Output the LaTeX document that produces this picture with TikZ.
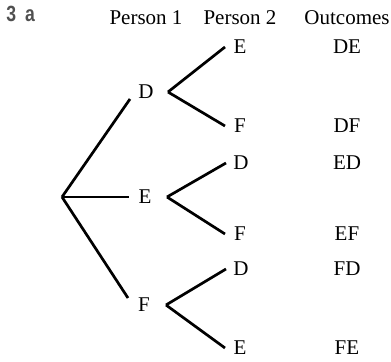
\documentclass[tikz,border=0pt]{standalone}
\usepackage{fontspec}
\setmainfont{Liberation Serif}
\newfontfamily\numfont[FakeStretch=0.8]{Liberation Sans}
\usetikzlibrary{positioning}
\definecolor{numgrey}{RGB}{80,80,80}

\begin{document}
\begin{tikzpicture}[
        x=0.5pt, y=-0.5pt,
        lab/.style={font=\fontsize{10.5}{12}\selectfont, inner sep=0pt,
                    outer sep=0pt, minimum height=7pt},
        first/.style={lab, minimum width=16pt},
        second/.style={lab, minimum width=15pt},
        branch/.style={line width=1.35pt}
    ]
        \useasboundingbox (0,0) rectangle (391,362);

        \node[anchor=west, text=numgrey, inner sep=0pt,
              font=\numfont\bfseries\fontsize{11}{12}\selectfont] (qnum) at (6,14) {3\hspace{4.5pt}a};

        \node[lab] (head1) at (146,18) {Person 1};
        \node[lab] (head2) at (240,18) {Person 2};
        \node[lab] (head3) at (347,18) {Outcomes};

        \coordinate (root) at (62,197);
        \node[first] (d) at (146,92) {D};
        \node[first] (e) at (145,197) {E};
        \node[first] (f) at (144,305) {F};

        \node[second] (dE) at (240,47) {E};
        \node[second] (dF) at (240,126) {F};
        \node[second] (eD) at (241,163) {D};
        \node[second] (eF) at (240,234) {F};
        \node[second] (fD) at (241,269) {D};
        \node[second] (fE) at (240,348) {E};

        \node[lab] (outDE) at (347,47) {DE};
        \node[lab] (outDF) at (347,126) {DF};
        \node[lab] (outED) at (347,163) {ED};
        \node[lab] (outEF) at (347,234) {EF};
        \node[lab] (outFD) at (347,269) {FD};
        \node[lab] (outFE) at (347,348) {FE};

        \draw[branch] (root) -- (d.south west);
        \draw[branch] (root) -- (e.west);
        \draw[branch] (root) -- (f.north west);

        \draw[branch] ([xshift=3pt]d.east) -- (dE.west);
        \draw[branch] ([xshift=3pt]d.east) -- (dF.west);
        \draw[branch] ([xshift=3pt]e.east) -- (eD.west);
        \draw[branch] ([xshift=3pt]e.east) -- (eF.west);
        \draw[branch] ([xshift=3pt]f.east) -- (fD.west);
        \draw[branch] ([xshift=3pt]f.east) -- (fE.west);
    \end{tikzpicture}
\end{document}
